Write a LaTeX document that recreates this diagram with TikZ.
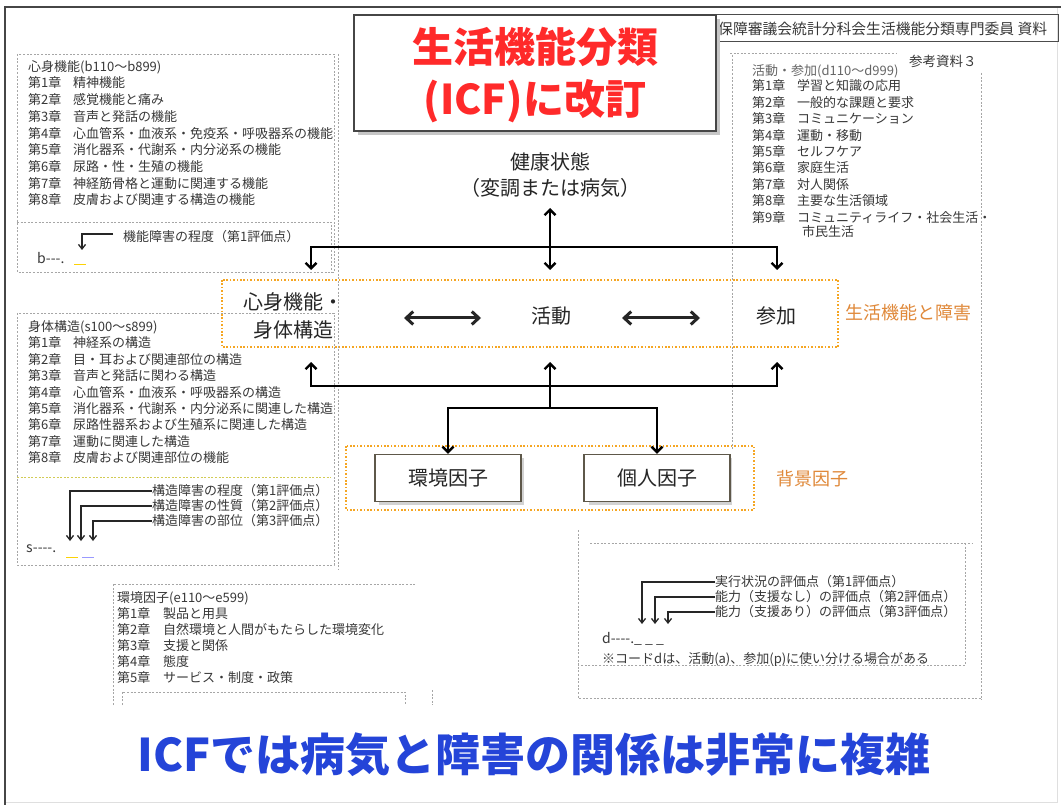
\documentclass[tikz,border=0pt]{standalone}
\usepackage{fontspec}
\setmainfont{Noto Sans CJK JP}
\usetikzlibrary{arrows.meta}
\definecolor{txt}{HTML}{383838}
\definecolor{orng}{HTML}{F5A623}
\definecolor{orlab}{HTML}{E0893A}
\definecolor{ttlred}{HTML}{FF2A2A}
\definecolor{btmblue}{HTML}{2444D8}
\definecolor{boxedge}{HTML}{5E584A}
\newcommand{\myfs}[1]{\fontsize{#1}{#1}\selectfont}
\tikzset{
  lst/.style={anchor=west, inner sep=0pt, text=txt, font=\myfs{13}},
  dbox/.style={draw=gray!70, line width=0.9pt, dash pattern=on 2pt off 1.6pt},
  obox/.style={draw=orng, line width=2.2pt, dash pattern=on 1.6pt off 1.8pt},
  main/.style={line width=2.4pt, black},
  tip/.style={>={Straight Barb[length=5.5pt,width=11pt]}},
  big/.style={line width=3pt, black!85, >={Straight Barb[length=7pt,width=13pt]}},
  brk/.style={line width=1.3pt, gray!30!black, -{Straight Barb[length=4.5pt,width=7pt]}},
  lbl/.style={inner sep=0pt, text=black!85, font=\myfs{20}},
  olbl/.style={inner sep=0pt, text=orlab, font=\myfs{18}, anchor=west},
  fbox/.style={draw=boxedge, line width=1.3pt, fill=white, minimum width=146pt, minimum height=47pt, inner sep=0pt, font=\myfs{20}, text=black!85}
}
\begin{document}
\begin{tikzpicture}[x=1pt,y=-1pt]
\useasboundingbox (0,0) rectangle (1061,805);
\fill[white] (0,0) rectangle (1061,805);
% outer frame
\draw[gray!25, line width=1pt] (1057,7) -- (1057,802) -- (5,802);
\draw[gray!55!black, line width=1.4pt] (5,805) -- (5,7) -- (1061,7);

% ---------- left column ----------
\draw[dbox] (338,54) -- (338,570);
\draw[dbox] (17,54) rectangle (334,272);
\draw[dbox] (17,222) -- (331,222) -- (331,272);
\node[lst] (bh) at (28,67) {心身機能(b110～b899)};
\foreach \t [count=\i] in {精神機能,感覚機能と痛み,音声と発話の機能,心血管系・血液系・免疫系・呼吸器系の機能,消化器系・代謝系・内分泌系の機能,尿路・性・生殖の機能,神経筋骨格と運動に関連する機能,皮膚および関連する構造の機能}{
  \node[lst] (bc\i) at (28,{83+16.7*(\i-1)}) {第\i 章};
  \node[lst] (bt\i) at (73,{83+16.7*(\i-1)}) {\t};
}
\node[lst] (bq) at (123,237) {機能障害の程度（第1評価点）};
\coordinate (bq0) at (113,234);
\coordinate (bq1) at (82,234);
\coordinate (bq2) at (82,250);
\draw[brk] (bq0) -- (bq1) -- (bq2);
\node[lst, font=\myfs{14}] (bcode) at (37,258) {b{-}{-}{-}.};
\draw[yellow!70!orange, line width=1pt] (74,265) -- (86,265);

\draw[dbox] (17,313) rectangle (334,565);
\draw[dbox, draw=yellow!60!gray] (17,477) -- (331,477);
\node[lst] (sh) at (28,327) {身体構造(s100～s899)};
\foreach \t [count=\i] in {神経系の構造,目・耳および関連部位の構造,音声と発話に関わる構造,心血管系・血液系・呼吸器系の構造,消化器系・代謝系・内分泌系に関連した構造,尿路性器系および生殖系に関連した構造,運動に関連した構造,皮膚および関連部位の機能}{
  \node[lst] (sc\i) at (28,{343+16.4*(\i-1)}) {第\i 章};
  \node[lst] (st\i) at (73,{343+16.4*(\i-1)}) {\t};
}
\node[lst] (sq1) at (152,491) {構造障害の程度（第1評価点）};
\node[lst] (sq2) at (152,506) {構造障害の性質（第2評価点）};
\node[lst] (sq3) at (152,521) {構造障害の部位（第3評価点）};
\coordinate (s1a) at (70,491); \coordinate (s1b) at (70,541);
\coordinate (s2a) at (81,506); \coordinate (s2b) at (81,541);
\coordinate (s3a) at (93,521); \coordinate (s3b) at (93,541);
\draw[brk] (sq1.west) -- (s1a) -- (s1b);
\draw[brk] (sq2.west) -- (s2a) -- (s2b);
\draw[brk] (sq3.west) -- (s3a) -- (s3b);
\node[lst, font=\myfs{14}] (scode) at (26,549) {s{-}{-}{-}{-}.};
\draw[yellow!70!orange, line width=1pt] (66,557) -- (78,557);
\draw[blue!40, line width=1pt] (82,557) -- (94,557);

% bottom-left environment box
\draw[dbox] (113,705) -- (113,584) -- (415,584);
\draw[dbox] (122,705) -- (122,692) -- (405,692) -- (405,705);
\draw[dbox] (432,690) -- (432,705);
\node[lst] (eh) at (117,598) {環境因子(e110～e599)};
\foreach \t [count=\i] in {製品と用具,自然環境と人間がもたらした環境変化,支援と関係,態度,サービス・制度・政策}{
  \node[lst] (ec\i) at (117,{614+15.8*(\i-1)}) {第\i 章};
  \node[lst] (et\i) at (163,{614+15.8*(\i-1)}) {\t};
}

% ---------- right column ----------
\draw[dbox] (730,53) -- (897,53);
\draw[dbox] (732,55) -- (732,450);
\draw[dbox] (981,73) -- (981,700);
\node[lst, text=gray!80!black] (ah) at (752,71) {活動・参加(d110～d999)};
\foreach \t [count=\i] in {学習と知識の応用,一般的な課題と要求,コミュニケーション,運動・移動,セルフケア,家庭生活,対人関係,主要な生活領域,コミュニティライフ・社会生活・}{
  \node[lst] (ac\i) at (752,{86+16.4*(\i-1)}) {第\i 章};
  \node[lst] (at\i) at (797,{86+16.4*(\i-1)}) {\t};
}
\node[lst] (at10) at (802,232) {市民生活};
\node[lst, font=\myfs{13.5}] (ref) at (909,61) {参考資料３};

% bottom-right box
\draw[dbox] (578,530) -- (578,698) -- (981,698);
\draw[dbox] (590,543) -- (972,543);
\draw[dbox] (965,543) -- (965,665) -- (578,665);
\node[lst] (dq1) at (715,582) {実行状況の評価点（第1評価点）};
\node[lst] (dq2) at (715,597) {能力（支援なし）の評価点（第2評価点）};
\node[lst] (dq3) at (715,612) {能力（支援あり）の評価点（第3評価点）};
\coordinate (d1a) at (642,582); \coordinate (d1b) at (642,624);
\coordinate (d2a) at (655,597); \coordinate (d2b) at (655,624);
\coordinate (d3a) at (668,612); \coordinate (d3b) at (668,624);
\draw[brk] (dq1.west) -- (d1a) -- (d1b);
\draw[brk] (dq2.west) -- (d2a) -- (d2b);
\draw[brk] (dq3.west) -- (d3a) -- (d3b);
\node[lst, font=\myfs{14}] (dcode) at (602,639) {d{-}{-}{-}{-}.\_ \_ \_};
\node[lst] (dnote) at (602,659) {※コードdは、活動(a)、参加(p)に使い分ける場合がある};

% ---------- header and title ----------
\draw[gray!60!black, line width=1pt] (716,15) rectangle (1058,42);
\node[lst, font=\myfs{14.8}] (hdr) at (718,29) {保障審議会統計分科会生活機能分類専門委員\ 資料};
\fill[gray!45] (358,19) rectangle (720,135);
\draw[fill=white, draw=gray!55!black, line width=1.6pt] (354,15) rectangle (716,131);
\node[inner sep=0pt, text=ttlred, font=\myfs{41}\bfseries] (t1) at (535,47) {生活機能分類};
\node[inner sep=0pt, text=ttlred, font=\myfs{41}\bfseries] (t2) at (535,101) {(ICF)に改訂};

% ---------- central diagram ----------
\node[lbl] (hs1) at (550,162) {健康状態};
\node[lbl] (hs2) at (550,188) {（変調または病気）};

\draw[obox] (222,280) rectangle (838,347);
\node[olbl] (olab1) at (845,313) {生活機能と障害};
\node[lbl] (sk1) at (293,302) {心身機能・};
\node[lbl] (sk2) at (293,330) {身体構造};
\node[lbl] (kd) at (551,316) {活動};
\node[lbl] (sn) at (776,316) {参加};

\draw[obox] (346,446) rectangle (754,510);
\node[olbl] (olab2) at (776,479) {背景因子};
\fill[gray!35] (379,458) rectangle (524,505);
\fill[gray!35] (589,458) rectangle (732,505);
\node[fbox] (env) at (448,478) {環境因子};
\node[fbox] (per) at (657,478) {個人因子};

% connectors
\coordinate (hTop) at (550,208); \coordinate (hBot) at (550,270);
\coordinate (jA) at (311,247); \coordinate (jB) at (777,247);
\coordinate (aL) at (311,270); \coordinate (aR) at (777,270);
\draw[main,tip,<->] (hTop) -- (hBot);
\draw[main,tip,<->] (aL) -- (jA) -- (jB) -- (aR);

\coordinate (m1) at (404,318); \coordinate (m2) at (481,318);
\coordinate (m3) at (622,318); \coordinate (m4) at (700,318);
\draw[big,<->] (m1) -- (m2);
\draw[big,<->] (m3) -- (m4);

\coordinate (uL) at (311,362); \coordinate (uM) at (550,362); \coordinate (uR) at (777,362);
\coordinate (kL) at (311,386); \coordinate (kR) at (777,386);
\coordinate (kM) at (550,408);
\coordinate (eL) at (448,408); \coordinate (eR) at (657,408);
\draw[main,tip,<->] (uL) -- (kL) -- (kR) -- (uR);
\draw[main,tip,->] (kM) -- (uM);
\draw[main,tip,<->] (env.north) -- (eL) -- (eR) -- (per.north);

% bottom message
\node[inner sep=0pt, text=btmblue, font=\myfs{45}\bfseries] (msg) at (534,755) {ICFでは病気と障害の関係は非常に複雑};
\end{tikzpicture}
\end{document}
